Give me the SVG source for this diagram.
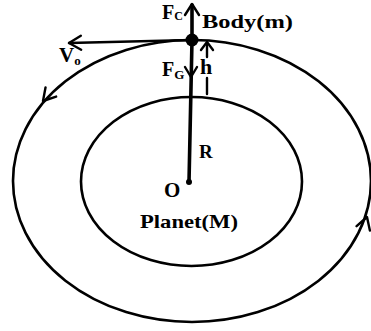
<svg xmlns="http://www.w3.org/2000/svg" width="371" height="331" viewBox="0 0 371 331">
<style>
.orb{fill:none;stroke:#000;stroke-width:2.6}
.ln{fill:none;stroke:#000;stroke-width:2.4;stroke-linecap:round;stroke-linejoin:round}
.th{fill:none;stroke:#000;stroke-width:3.6;stroke-linecap:round}
.t{font-family:"Liberation Serif","Times New Roman",serif;font-weight:bold;fill:#000}
</style>
<rect width="371" height="331" fill="#fff"/>
<g id="orbit">
<ellipse class="orb" cx="192" cy="181" rx="179" ry="141"/>
</g>
<g id="planet">
<ellipse class="orb" cx="191.5" cy="181.5" rx="110.5" ry="84.5"/>
<circle cx="189" cy="182" r="3" fill="#000"/>
<text class="t" x="164" y="197" font-size="21">O</text>
<text class="t" x="140" y="228" font-size="19" textLength="98" lengthAdjust="spacingAndGlyphs">Planet(M)</text>
</g>
<g id="body">
<circle cx="192" cy="40" r="6.5" fill="#000"/>
<text class="t" x="202" y="28" font-size="19" textLength="91" lengthAdjust="spacingAndGlyphs">Body(m)</text>
</g>
<g id="connectors">
<line class="th" x1="192" y1="40" x2="189" y2="182"/>
<line class="th" x1="192" y1="40" x2="192" y2="5"/>
<path class="ln" transform="translate(192,4) rotate(-90)" d="M-11,-7 L0,0 L-11,7"/>
<path class="ln" transform="translate(191,77) rotate(90)" d="M-10,-6 L0,0 L-10,6"/>
<line class="ln" x1="192" y1="40" x2="69" y2="43"/>
<path class="ln" transform="translate(69,43) rotate(178.6)" d="M-12,-7 L0,0 L-12,7"/>
<line class="ln" x1="207" y1="43" x2="207" y2="57"/>
<path class="ln" transform="translate(207,42) rotate(-90)" d="M-8,-6 L0,0 L-8,6"/>
<line class="ln" x1="207" y1="78" x2="207" y2="94"/>
<path class="ln" transform="translate(43,101) rotate(130.9)" d="M-12,-7 L0,0 L-12,7"/>
<path class="ln" transform="translate(367,217) rotate(-71.8)" d="M-12,-7 L0,0 L-12,7"/>
</g>
<g id="labels">
<text class="t" x="162" y="19" font-size="20">F<tspan font-size="12" dy="1">C</tspan></text>
<text class="t" x="162" y="76" font-size="20">F<tspan font-size="13" dy="3">G</tspan></text>
<text class="t" x="200" y="74" font-size="22">h</text>
<text class="t" x="199" y="158" font-size="19">R</text>
<text class="t" x="59" y="62" font-size="21">V<tspan font-size="13" dy="3">o</tspan></text>
</g>
</svg>
